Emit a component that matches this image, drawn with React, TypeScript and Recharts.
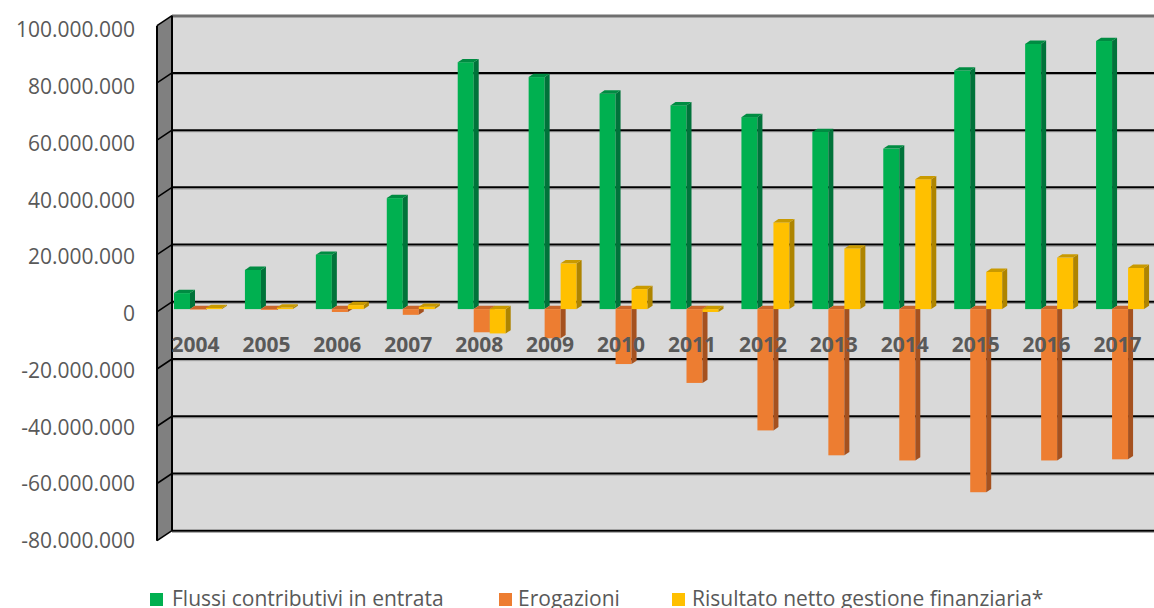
import React from 'react';
import { BarChart, Bar, XAxis, YAxis, Legend, ReferenceArea } from 'recharts';

const years = ['2004', '2005', '2006', '2007', '2008', '2009', '2010', '2011', '2012', '2013', '2014', '2015', '2016', '2017'];
const flussiContributivi = [5600000, 13700000, 19000000, 38800000, 86300000, 81100000, 75300000, 71200000, 67100000, 61900000, 56100000, 83400000, 92700000, 93700000];
const erogazioni = [-200000, -300000, -1000000, -2000000, -8100000, -10200000, -19200000, -25800000, -42400000, -51100000, -52900000, -64000000, -52900000, -52500000];
const risultatoNetto = [400000, 550000, 1400000, 800000, -8500000, 16000000, 7000000, -1000000, 30300000, 21200000, 45400000, 13000000, 18000000, 14400000];
const yTicks = [-80000000, -60000000, -40000000, -20000000, 0, 20000000, 40000000, 60000000, 80000000, 100000000];
const seriesNames = ['Flussi contributivi in entrata', 'Erogazioni', 'Risultato netto gestione finanziaria*'];
const seriesColors = ['#00B050', '#ED7D31', '#FFC000'];

const data = years.map((year, i) => ({
  year,
  flussi: flussiContributivi[i],
  erogazioni: erogazioni[i],
  risultato: risultatoNetto[i],
}));

const FONT = "'Open Sans', sans-serif";
const TEXT = '#595959';

const fmt = (v: number) => {
  const s = Math.abs(v).toString().replace(/\B(?=(\d{3})+(?!\d))/g, '.');
  return (v < 0 ? '-' : '') + s;
};

const make3D = (front: string, side: string, top: string) => (props: any) => {
  const { x, y, width, height } = props;
  if (x == null || y == null) return <g />;
  const y0 = Math.min(y, y + height);
  const h = Math.abs(height);
  const dx = 5;
  const dy = 3.3;
  return (
    <g>
      <rect x={x} y={y0} width={width} height={h} fill={front} />
      <polygon
        points={`${x + width},${y0} ${x + width + dx},${y0 - dy} ${x + width + dx},${y0 + h - dy} ${x + width},${y0 + h}`}
        fill={side}
      />
      <polygon
        points={`${x},${y0} ${x + dx},${y0 - dy} ${x + width + dx},${y0 - dy} ${x + width},${y0}`}
        fill={top}
      />
    </g>
  );
};

const WallShape = (props: any) => {
  const { x, y, width, height } = props;
  const bx = x + 9; // back wall left edge
  const by = y - 7.3; // back wall top
  const fx = x - 6; // front edge of left face
  const fdy = 10; // vertical offset of front edge
  const right = bx + width + 20;
  const n = yTicks.length - 1;
  const lines = [];
  for (let i = 0; i <= n; i++) {
    const yy = by + (i * height) / n;
    lines.push(
      <g key={i}>
        <line x1={bx} x2={right} y1={yy + 1.6} y2={yy + 1.6} stroke="#9a9a9a" strokeWidth={1} />
        <line x1={bx} x2={right} y1={yy} y2={yy} stroke={i === 0 ? '#6f6f6f' : '#000'} strokeWidth={i === 0 ? 2.5 : 2} />
        <line x1={fx} y1={yy + fdy} x2={bx} y2={yy} stroke="#000" strokeWidth={1.6} />
      </g>
    );
  }
  return (
    <g>
      <rect x={bx} y={by} width={right - bx} height={height} fill="#D9D9D9" />
      <polygon
        points={`${fx},${by + fdy} ${bx},${by} ${bx},${by + height} ${fx},${by + height + fdy}`}
        fill="#808080"
      />
      {lines}
      <line x1={bx} x2={bx} y1={by} y2={by + height} stroke="#000" strokeWidth={2} />
      <line x1={fx} x2={fx} y1={by + fdy} y2={by + height + fdy} stroke="#000" strokeWidth={2} />
    </g>
  );
};

const YTick = (props: any) => {
  const { x, y, payload } = props;
  const v = payload.value as number;
  return (
    <text x={x - 28} y={y + 12 + (v / 20000000) * 0.45} textAnchor="end" fill={TEXT} fontSize={21} fontFamily={FONT}>
      {fmt(v)}
    </text>
  );
};

const XTick = (props: any) => {
  const { x, y, payload } = props;
  return (
    <text x={x - 3} y={y - 186.3} textAnchor="middle" fill={TEXT} fontSize={21} fontWeight="bold" fontFamily={FONT}>
      {payload.value}
    </text>
  );
};

const legendSquareX = [150, 499, 672];
const legendTextX = [172, 518, 692];

const renderLegend = () => {
  return (
    <div style={{ position: 'relative', width: 1160, height: 40, fontFamily: FONT, fontSize: 21, color: TEXT }}>
      {seriesNames.map((name, i) => (
        <React.Fragment key={name}>
          <div style={{ position: 'absolute', left: legendSquareX[i], top: 25, width: 13, height: 13, background: seriesColors[i] }} />
          <div style={{ position: 'absolute', left: legendTextX[i], top: 20, lineHeight: '21px', whiteSpace: 'nowrap' }}>
            {name}
          </div>
        </React.Fragment>
      ))}
    </div>
  );
};

export default function App() {
  return (
    <div style={{ position: 'absolute', left: 0, top: 0, width: 1154, height: 608, overflow: 'hidden', background: '#fff' }}>
      <BarChart
        width={1160}
        height={608}
        data={data}
        margin={{ top: 23, right: 4, left: 0, bottom: 0 }}
        barGap={0}
        barSize={16}
      >
        <ReferenceArea y1={-80000000} y2={100000000} ifOverflow="visible" shape={WallShape} zIndex={-100} />
        <Bar dataKey="flussi" name={seriesNames[0]} fill={seriesColors[0]} isAnimationActive={false} shape={make3D(seriesColors[0], '#00733A', '#008C42')} />
        <Bar dataKey="erogazioni" name={seriesNames[1]} fill={seriesColors[1]} isAnimationActive={false} shape={make3D(seriesColors[1], '#A5511F', '#C9652A')} />
        <Bar dataKey="risultato" name={seriesNames[2]} fill={seriesColors[2]} isAnimationActive={false} shape={make3D(seriesColors[2], '#AE8400', '#C99A00')} />
        <XAxis dataKey="year" height={30} tickLine={false} axisLine={false} tickSize={0} tickMargin={0} interval={0} tick={XTick} />
        <YAxis
          width={163}
          domain={[-80000000, 100000000]}
          ticks={yTicks}
          interval={0}
          tickLine={false}
          axisLine={false}
          tickSize={0}
          tickMargin={0}
          tick={YTick}
        />
        <Legend
          verticalAlign="bottom"
          height={40}
          content={renderLegend}
          wrapperStyle={{ left: 0, top: 568, width: 1160, height: 40 }}
        />
      </BarChart>
    </div>
  );
}
